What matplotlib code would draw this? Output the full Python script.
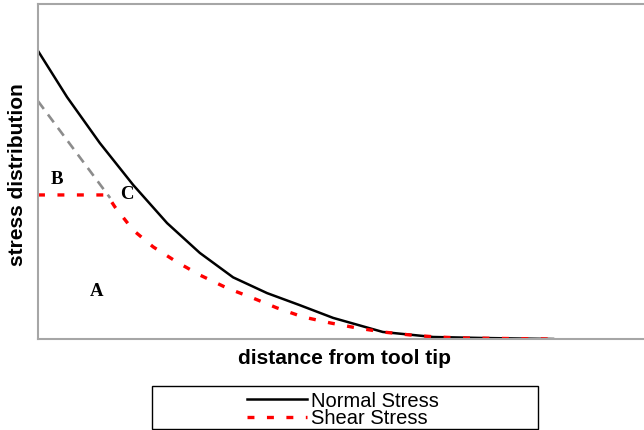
import matplotlib
matplotlib.use("Agg")
import matplotlib.pyplot as plt
from matplotlib.patches import Rectangle

plt.rcParams['lines.scale_dashes'] = False

# normal stress along the rake face (solid black)
normal_x = [0, 0.48, 1.02, 1.57, 2.13, 2.67, 3.22, 3.78, 4.32, 4.87, 5.69, 6.52, 7.34, 8.50]
normal_y = [8.60, 7.22, 5.85, 4.60, 3.46, 2.57, 1.84, 1.37, 1.01, 0.63, 0.21, 0.06, 0.03, 0.0]

# shear stress: plateau in sticking zone, then sliding zone
shear_x = [0, 1.14, 1.27, 1.57, 1.90, 2.29, 2.67, 3.12, 3.55, 3.94, 4.37, 4.82, 5.26, 5.69,
           6.14, 6.58, 7.01, 8.42]
shear_y = [4.30, 4.30, 3.94, 3.25, 2.75, 2.30, 1.91, 1.52, 1.22, 0.93, 0.66, 0.48, 0.33, 0.21,
           0.12, 0.06, 0.03, 0.0]

# friction-limited extension (grey dashed)
ext_x = [0, 1.19]
ext_y = [7.10, 4.21]

region_labels = ['B', 'C', 'A']
region_x = [0.31, 1.47, 0.97]
region_y = [4.75, 4.30, 1.43]

fig = plt.figure(figsize=(6.44, 4.30), dpi=100)
ax = fig.add_axes([38 / 644, 91 / 430, 606 / 644, 335 / 430])

red_dash = (0, (5, 9))
ax.plot(ext_x, ext_y, color='#8c8c8c', lw=1.9, ls=(0, (7, 5)))
ax.plot(normal_x, normal_y, color='black', lw=1.8, label='Normal Stress')
ax.plot(shear_x, shear_y, color='#ff0000', lw=2.4, ls=red_dash, label='Shear Stress')

for lab, tx, ty in zip(region_labels, region_x, region_y):
    ax.text(tx, ty, lab, fontfamily='Liberation Serif', fontweight='bold', fontsize=13.5,
            ha='center', va='center')

ax.set_xlim(0, 10)
ax.set_ylim(0, 10)
ax.set_xticks([])
ax.set_yticks([])
for side in ['left', 'top', 'bottom']:
    ax.spines[side].set_color('#a6a6a6')
    ax.spines[side].set_linewidth(1.5)
ax.spines['right'].set_visible(False)

fig.text(18 / 644, 1 - 175 / 430, 'stress distribution', rotation=90, ha='center', va='center',
         fontfamily='Liberation Sans', fontweight='bold', fontsize=15)
fig.text(345 / 644, 1 - 358 / 430, 'distance from tool tip', ha='center', va='center',
         fontfamily='Liberation Sans', fontweight='bold', fontsize=15)

# legend box below the axes
fig.patches.append(Rectangle((152 / 644, 1 / 430), 386 / 644, 43 / 430, transform=fig.transFigure,
                             fill=False, edgecolor='black', lw=1.0))
handles, labels = ax.get_legend_handles_labels()
fig.legend(handles, labels, loc='center', bbox_to_anchor=(343 / 644, 20 / 430), frameon=False,
           prop={'family': 'Liberation Sans', 'size': 14.5}, handlelength=3.0, handletextpad=0.2,
           labelspacing=-0.05, borderpad=0)

fig.savefig('out.png', dpi=100)
